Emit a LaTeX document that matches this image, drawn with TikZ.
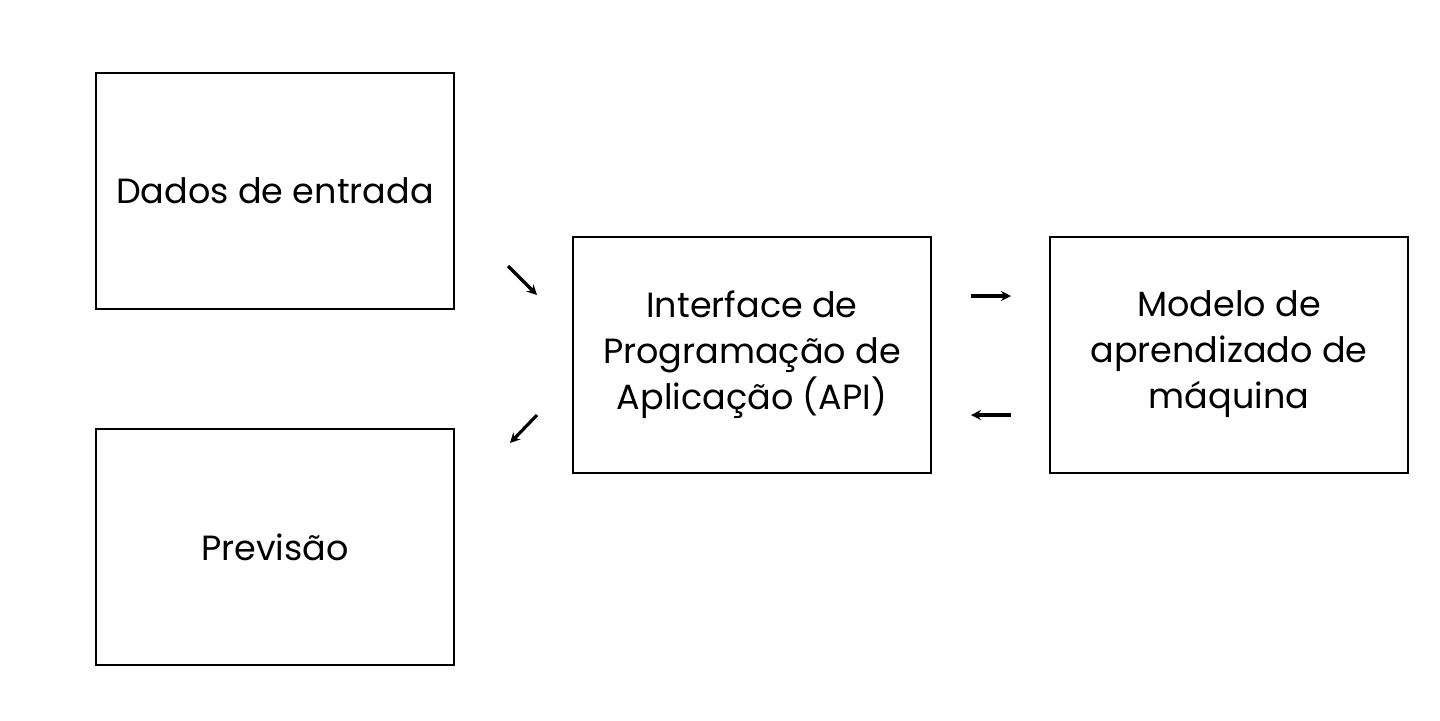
\documentclass[tikz,border=0pt]{standalone}
\usepackage{fontspec}
\setmainfont{Poppins}
\usetikzlibrary{arrows.meta}
\tikzset{
  box/.style={draw, line width=1pt, minimum width=179pt, minimum height=118pt,
    align=center, inner sep=0pt, font=\fontsize{17.5}{23}\selectfont},
  flow/.style={-{Stealth[length=5pt,width=5pt]}, line width=1.6pt}
}
\begin{document}
\begin{tikzpicture}[x=0.5pt,y=-0.5pt]
  \useasboundingbox (0,0) rectangle (1440,720);
  \node[box] (entrada) at (275,191) {Dados de entrada};
  \node[box] (previsao) at (275,547) {Previsão};
  \node[box] (api) at (752,354.5) {Interface de\\Programação de\\Aplicação (API)};
  \node[box] (modelo) at (1229,354.5) {Modelo de\\aprendizado de\\máquina};
  % short arrows between boxes
  \coordinate (a1) at (508,266); \coordinate (a2) at (537,295);
  \coordinate (b1) at (537,415); \coordinate (b2) at (510,443);
  \coordinate (c1) at (971,296); \coordinate (c2) at (1011,296);
  \coordinate (d1) at (1011,415); \coordinate (d2) at (971,415);
  \draw[flow] (a1) -- (a2);
  \draw[flow] (b1) -- (b2);
  \draw[flow] (c1) -- (c2);
  \draw[flow] (d1) -- (d2);
\end{tikzpicture}
\end{document}
